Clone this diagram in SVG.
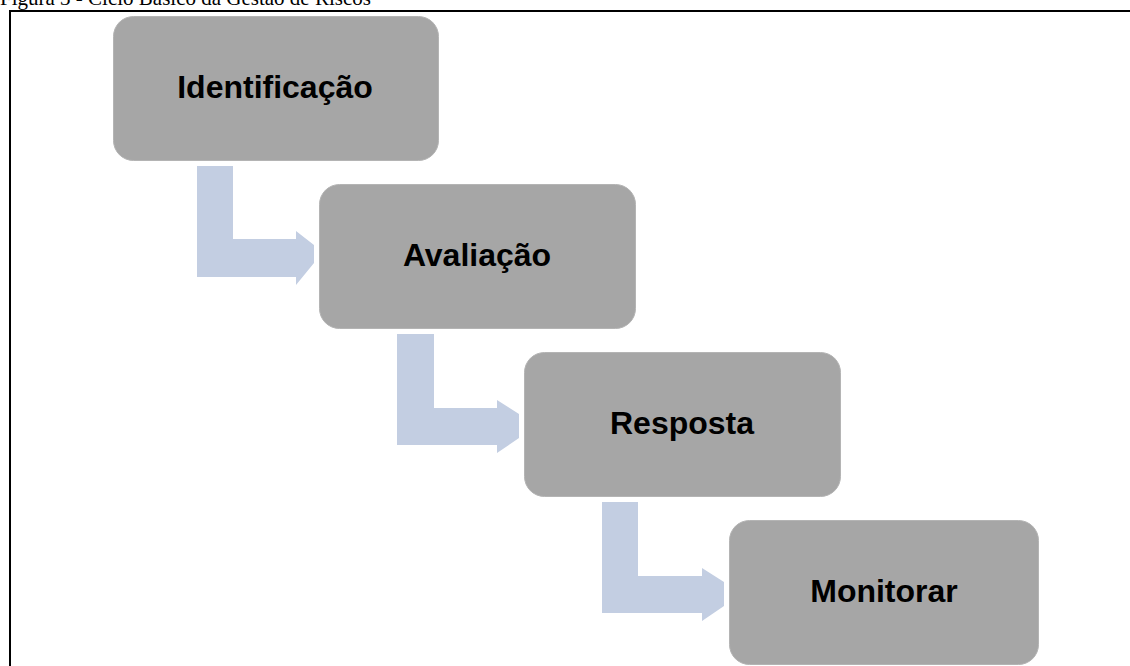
<svg xmlns="http://www.w3.org/2000/svg" width="1130" height="666" viewBox="0 0 1130 666">
<style>
.box{fill:#a6a6a6;stroke:#b4b4b4;stroke-width:1}
.lbl{font-family:"Liberation Sans",Arial,sans-serif;font-weight:bold;font-size:32px;fill:#000;text-anchor:middle}
.arr{fill:#c3cee2}
.cap{font-family:"Liberation Serif","Times New Roman",serif;font-size:21px;fill:#000}
</style>
<rect width="1130" height="666" fill="#fff"/>
<text class="cap" x="0" y="5">Figura 3 - Ciclo Básico da Gestão de Riscos</text>
<path d="M10 666 V11 H1130" fill="none" stroke="#000" stroke-width="2"/>
<g id="connectors">
<polygon class="arr" points="197,166 233,166 233,239 296,239 296,231 314,245 314,263 296,285 296,277 197,277"/>
<polygon class="arr" points="397,334 434,334 434,408 497,408 497,400 519,414 519,438 497,453 497,445 397,445"/>
<polygon class="arr" points="602,502 638,502 638,576 702,576 702,568 724,582 724,606 702,621 702,613 602,613"/>
</g>
<g id="n1"><rect class="box" x="113.5" y="16.5" width="325" height="144" rx="20"/><text class="lbl" x="275" y="98">Identificação</text></g>
<g id="n2"><rect class="box" x="319.5" y="184.5" width="316" height="144" rx="20"/><text class="lbl" x="477" y="266">Avaliação</text></g>
<g id="n3"><rect class="box" x="524.5" y="352.5" width="316" height="144" rx="20"/><text class="lbl" x="682" y="434">Resposta</text></g>
<g id="n4"><rect class="box" x="729.5" y="520.5" width="309" height="144" rx="20"/><text class="lbl" x="884" y="602">Monitorar</text></g>
</svg>
